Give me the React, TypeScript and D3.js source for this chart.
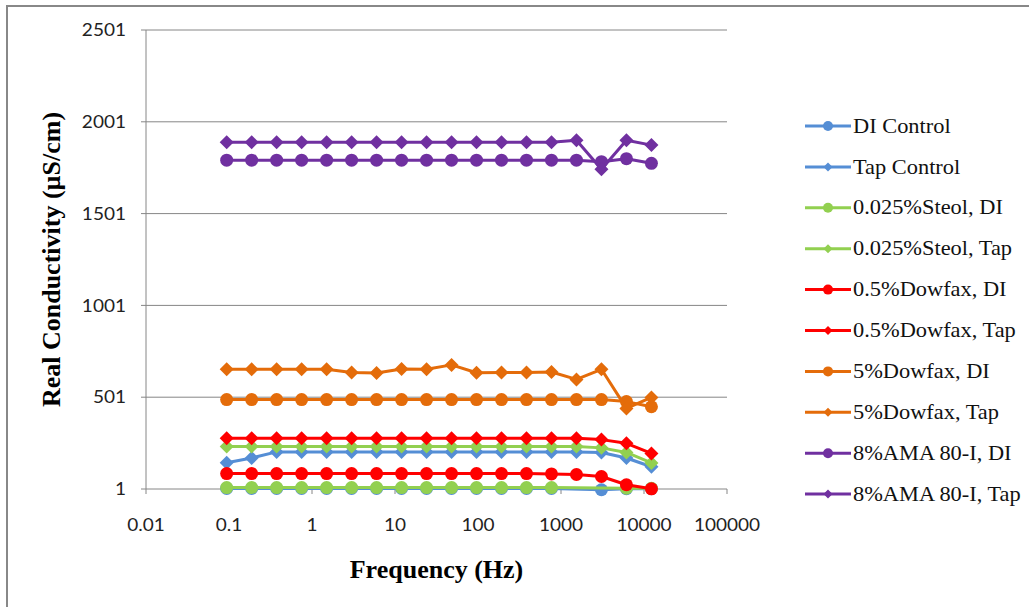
import React, { useEffect, useRef } from 'react';
import * as d3 from 'd3';

// frequencies (Hz) of the sweep
const freqs = [0.09375, 0.1875, 0.375, 0.75, 1.5, 3, 6, 12, 24, 48, 96, 192, 384, 768, 1536, 3072, 6144, 12288];

const diControl = [4, 4, 4, 4, 4, 4, 4, 4, 4, 4, 4, 4, 4, 4, null, -3, 3, 3];
const tapControl = [144, 170, 203, 203, 203, 203, 203, 203, 203, 203, 203, 203, 203, 203, 203, 200, 170, 122];
const steolDI = [9, 9, 9, 9, 9, 9, 9, 9, 9, 9, 9, 9, 9, 9, null, null, 5, 5];
const steolTap = [233, 233, 233, 233, 233, 233, 233, 233, 233, 233, 233, 233, 233, 233, 233, 225, 200, 143];
const dowfax05DI = [85, 85, 85, 85, 85, 85, 85, 85, 85, 85, 85, 85, 85, 83, 80, 69, 24, 2];
const dowfax05Tap = [278, 278, 278, 278, 278, 278, 278, 278, 278, 278, 278, 278, 278, 278, 278, 270, 250, 195];
const dowfax5DI = [488, 488, 488, 488, 488, 488, 488, 488, 488, 488, 488, 488, 488, 488, 488, 488, 477, 449];
const dowfax5Tap = [653, 653, 653, 653, 653, 635, 633, 655, 653, 677, 634, 636, 636, 638, 598, 653, 440, 500];
const ama80DI = [1792, 1792, 1792, 1792, 1792, 1792, 1792, 1792, 1792, 1792, 1792, 1792, 1792, 1792, 1792, 1784, 1800, 1775];
const ama80Tap = [1890, 1890, 1890, 1890, 1890, 1890, 1890, 1890, 1890, 1890, 1890, 1890, 1890, 1890, 1900, 1742, 1900, 1874];

const seriesNames = [
  'DI Control', 'Tap Control', '0.025%Steol, DI', '0.025%Steol, Tap', '0.5%Dowfax, DI',
  '0.5%Dowfax, Tap', '5%Dowfax, DI', '5%Dowfax, Tap', '8%AMA 80-I, DI', '8%AMA 80-I, Tap'
];
const seriesValues = [diControl, tapControl, steolDI, steolTap, dowfax05DI, dowfax05Tap, dowfax5DI, dowfax5Tap, ama80DI, ama80Tap];
const seriesColors = ['#558ED5', '#558ED5', '#92D050', '#92D050', '#FF0000', '#FF0000', '#E46C0A', '#E46C0A', '#7030A0', '#7030A0'];
const seriesShapes = ['circle', 'diamond', 'circle', 'diamond', 'circle', 'diamond', 'circle', 'diamond', 'circle', 'diamond'];

const yTicks = [1, 501, 1001, 1501, 2001, 2501];
const xTicks = [0.01, 0.1, 1, 10, 100, 1000, 10000, 100000];
const xTickLabels = ['0.01', '0.1', '1', '10', '100', '1000', '10000', '100000'];

const markerPath = (shape: string, r: number) =>
  shape === 'circle'
    ? d3.symbol().type(d3.symbolCircle).size(Math.PI * r * r)()
    : `M0,${-r}L${r},0L0,${r}L${-r},0Z`;

const App = () => {
  const ref = useRef<SVGSVGElement>(null);

  useEffect(() => {
    const svg = d3.select(ref.current);
    svg.selectAll('*').remove();

    const left = 146, right = 727, top = 30, bottom = 489;
    const x = d3.scaleLog().domain([0.01, 100000]).range([left, right]);
    const y = d3.scaleLinear().domain([1, 2501]).range([bottom, top]);
    const grid = '#868686';
    const tickFont = 'Lato, "Open Sans", sans-serif';
    const serif = '"Liberation Serif", "Times New Roman", serif';

    // outer chart border
    svg.append('rect')
      .attr('x', 7).attr('y', 6).attr('width', 1100).attr('height', 700)
      .attr('fill', 'white').attr('stroke', '#888').attr('stroke-width', 2);

    // gridlines
    svg.selectAll('.grid').data(yTicks.slice(1)).join('line')
      .attr('x1', left).attr('x2', right)
      .attr('y1', d => y(d)).attr('y2', d => y(d))
      .attr('stroke', grid).attr('stroke-width', 1);

    // axes
    svg.append('line').attr('x1', left).attr('x2', right).attr('y1', bottom).attr('y2', bottom)
      .attr('stroke', grid).attr('stroke-width', 1);
    svg.append('line').attr('x1', left).attr('x2', left).attr('y1', top).attr('y2', bottom)
      .attr('stroke', grid).attr('stroke-width', 1);

    yTicks.forEach(t => {
      svg.append('line').attr('x1', left - 5).attr('x2', left).attr('y1', y(t)).attr('y2', y(t))
        .attr('stroke', grid);
      svg.append('text')
        .attr('transform', `translate(126,${y(t)}) scale(1.12,1)`)
        .attr('dy', '0.36em')
        .attr('text-anchor', 'end')
        .attr('font-family', tickFont).attr('font-size', 17).attr('fill', '#222')
        .text(String(t));
    });

    xTicks.forEach((t, i) => {
      svg.append('line').attr('x1', x(t)).attr('x2', x(t)).attr('y1', bottom).attr('y2', bottom + 5)
        .attr('stroke', grid);
      svg.append('text')
        .attr('transform', `translate(${x(t)},531) scale(1.12,1)`)
        .attr('text-anchor', 'middle')
        .attr('font-family', tickFont).attr('font-size', 17).attr('fill', '#222')
        .text(xTickLabels[i]);
    });

    // axis titles
    svg.append('text')
      .attr('x', (left + right) / 2).attr('y', 578)
      .attr('text-anchor', 'middle')
      .attr('font-family', serif).attr('font-weight', 'bold').attr('font-size', 26)
      .text('Frequency (Hz)');
    svg.append('text')
      .attr('transform', `translate(60,${(top + bottom) / 2}) rotate(-90)`)
      .attr('text-anchor', 'middle')
      .attr('font-family', serif).attr('font-weight', 'bold').attr('font-size', 26)
      .text('Real Conductivity (µS/cm)');

    // series
    const line = d3.line<[number, number | null]>()
      .x(d => x(d[0]))
      .y(d => y(d[1] as number));

    seriesValues.forEach((vals, si) => {
      const pts = freqs.map((f, i) => [f, vals[i]] as [number, number | null]).filter(d => d[1] !== null);
      const g = svg.append('g');
      g.append('path')
        .datum(pts)
        .attr('fill', 'none')
        .attr('stroke', seriesColors[si])
        .attr('stroke-width', 3)
        .attr('stroke-linejoin', 'round')
        .attr('d', line);
      g.selectAll('path.m').data(pts).join('path')
        .attr('class', 'm')
        .attr('transform', d => `translate(${x(d[0])},${y(d[1] as number)})`)
        .attr('d', markerPath(seriesShapes[si], seriesShapes[si] === 'circle' ? 6.5 : 7))
        .attr('fill', seriesColors[si]);
    });

    // legend
    seriesNames.forEach((name, i) => {
      const ly = 126 + i * 40.9;
      svg.append('line').attr('x1', 805).attr('x2', 851).attr('y1', ly).attr('y2', ly)
        .attr('stroke', seriesColors[i]).attr('stroke-width', 3);
      svg.append('path')
        .attr('transform', `translate(828,${ly})`)
        .attr('d', markerPath(seriesShapes[i], seriesShapes[i] === 'circle' ? 5 : 4.5))
        .attr('fill', seriesColors[i]);
      svg.append('text')
        .attr('transform', `translate(853,${ly}) scale(1.12,1)`)
        .attr('dy', '0.33em')
        .attr('font-family', serif).attr('font-size', 20).attr('fill', '#111')
        .text(name);
    });
  }, []);

  return (
    <svg ref={ref} width={1029} height={607}
      style={{ position: 'absolute', left: 0, top: 0, background: 'white' }} />
  );
};

export default App;
